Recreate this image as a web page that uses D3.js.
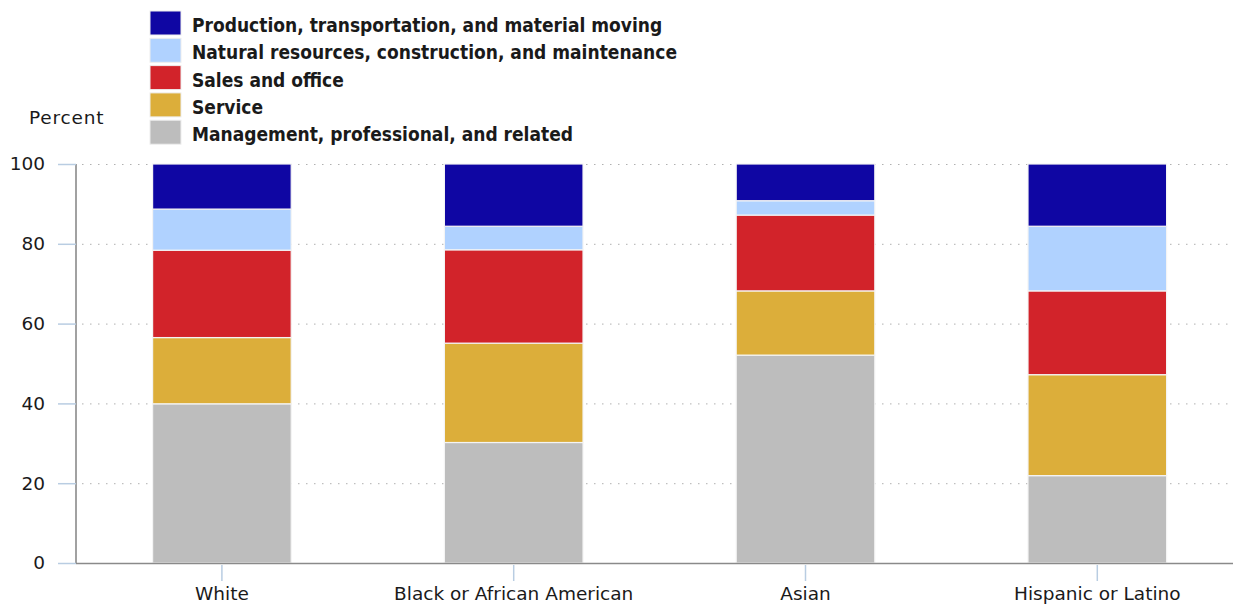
<!DOCTYPE html>
<html>
<head>
<meta charset="utf-8">
<script src="https://cdn.jsdelivr.net/npm/d3@7"></script>
<style>
  body { margin: 0; background: #fff; }
  text { font-family: "DejaVu Sans", sans-serif; fill: #1a1a1a; }
  .grid line { stroke: #b0b0b0; stroke-dasharray: 1.5 6.5; }
  .grid .domain { display: none; }
</style>
</head>
<body>
<div id="chart"></div>
<script>
// categories along the x axis
const groups = ["White", "Black or African American", "Asian", "Hispanic or Latino"];

// occupation series, bottom of stack first
const occupations = [
  "Management, professional, and related",
  "Service",
  "Sales and office",
  "Natural resources, construction, and maintenance",
  "Production, transportation, and material moving"
];

// percent of employed, one value per group
const management = [39.9, 30.2, 52.1, 21.9];
const service    = [16.6, 24.9, 16.1, 25.3];
const sales      = [21.9, 23.4, 19.0, 21.0];
const natural    = [10.3,  5.9,  3.6, 16.2];
const production = [11.3, 15.6,  9.2, 15.6];

const yTicks = [0, 20, 40, 60, 80, 100];

const colors = ["#bdbdbd", "#dcae3a", "#d2232a", "#b0d2ff", "#0f06a3"];

const seriesValues = [management, service, sales, natural, production];

const W = 1233, H = 605;
const margin = { top: 164, right: -10, bottom: 42, left: 76 };
const width = W - margin.left - margin.right,
  height = H - margin.top - margin.bottom;

const rows = groups.map((g, i) => {
  const r = { group: g };
  occupations.forEach((o, k) => { r[o] = seriesValues[k][i]; });
  return r;
});

const stacked = d3.stack().keys(occupations)(rows);

const x = d3.scaleBand().domain(groups).range([0, 4 * 291.8])
  .paddingInner(0.525).paddingOuter(0.2625);
const y = d3.scaleLinear().domain([0, 100]).range([height, 0]);

const svg = d3.select("#chart").append("svg")
  .attr("width", W).attr("height", H);

const g = svg.append("g")
  .attr("transform", "translate(" + margin.left + "," + margin.top + ")");

// dotted gridlines (no line at 0)
g.append("g")
  .attr("class", "grid")
  .call(d3.axisLeft(y).tickValues(yTicks.filter(t => t > 0)).tickSize(-(W - margin.left)).tickFormat(""))
  .selectAll("line").attr("x1", 6);

// bars
g.selectAll("g.layer")
  .data(stacked)
  .enter().append("g")
  .attr("class", "layer")
  .attr("fill", (d, i) => colors[i])
  .selectAll("rect")
  .data(d => d)
  .enter().append("rect")
  .attr("x", d => x(d.data.group))
  .attr("width", x.bandwidth())
  .attr("y", d => y(d[1]))
  .attr("height", d => y(d[0]) - y(d[1]))
  .attr("stroke", "#f4f4f4")
  .attr("stroke-width", 1.2);

// y axis
const yAxis = g.append("g")
  .call(d3.axisLeft(y).tickValues(yTicks).tickSize(18).tickPadding(13));
yAxis.select(".domain").attr("stroke", "#8a8a8a").attr("stroke-width", 1.6)
  .attr("d", "M0," + y(100) + "V" + y(0));
yAxis.selectAll(".tick line").attr("stroke", "#b9cde2").attr("stroke-width", 1.5);
yAxis.selectAll(".tick text").style("font-size", "18.5px").attr("fill", "#1a1a1a");

// x axis
const xAxis = g.append("g")
  .attr("transform", "translate(0," + height + ")")
  .call(d3.axisBottom(x).tickSize(18).tickPadding(6));
xAxis.select(".domain").attr("stroke", "#8a8a8a").attr("stroke-width", 1.6)
  .attr("d", "M0,0.5H" + (W - margin.left));
xAxis.selectAll(".tick line").attr("stroke", "#b9cde2").attr("stroke-width", 1.5).attr("y1", 2);
xAxis.selectAll(".tick text").style("font-size", "18.5px").attr("fill", "#1a1a1a");

// y label
svg.append("text")
  .attr("x", 29).attr("y", 124)
  .style("font-size", "18.5px")
  .style("letter-spacing", "0.8px")
  .text("Percent");

// legend, top entry = top of stack
const legend = svg.append("g").attr("transform", "translate(150,11)");
const legendItems = occupations.map((o, i) => ({ name: o, color: colors[i] })).reverse();
const li = legend.selectAll("g")
  .data(legendItems)
  .enter().append("g")
  .attr("transform", (d, i) => "translate(0," + i * 27.3 + ")");
li.append("rect")
  .attr("width", 31).attr("height", 24)
  .attr("fill", d => d.color)
  .attr("stroke", "#eeeeee");
li.append("text")
  .attr("x", 42).attr("y", 21)
  .style("font-family", "'DejaVu Sans Condensed', 'DejaVu Sans', sans-serif")
  .style("font-size", "19px")
  .style("font-weight", "bold")
  .text(d => d.name);
</script>
</body>
</html>
